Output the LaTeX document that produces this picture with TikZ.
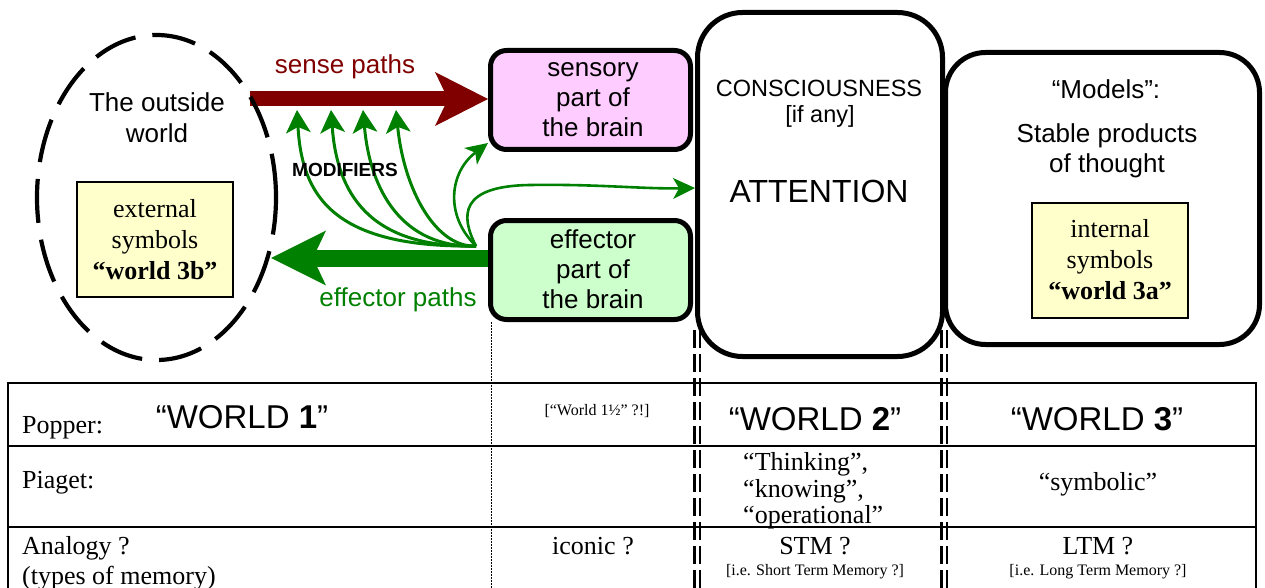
\documentclass[tikz,border=0pt]{standalone}
\usepackage{fontspec}
\setmainfont{Liberation Serif}
\setsansfont{Liberation Sans}
\usetikzlibrary{shapes.geometric,arrows.meta}
\definecolor{dred}{HTML}{800000}
\definecolor{dgreen}{HTML}{008000}
\definecolor{pinkf}{HTML}{FFCCFF}
\definecolor{greenf}{HTML}{CCFFCC}
\definecolor{yelf}{HTML}{FFFFCC}
\begin{document}
\begin{tikzpicture}[x=1pt,y=-1pt,
  every node/.style={inner sep=0pt},
  sfB/.style={font=\fontsize{26}{30}\selectfont\sffamily, anchor=base},
  sfM/.style={font=\fontsize{23.5}{28}\selectfont\sffamily, anchor=base},
  rmB/.style={font=\fontsize{26}{30}\selectfont\rmfamily, anchor=base},
  rmS/.style={font=\fontsize{16}{19}\selectfont\rmfamily, anchor=base},
  wld/.style={font=\fontsize{33}{38}\selectfont\sffamily, anchor=base},
  brainbox/.style={draw, line width=5pt, rounded corners=16pt, minimum width=200pt, minimum height=99pt},
  bigbox/.style={draw, line width=5pt, fill=white},
  symbox/.style={draw, line width=1.5pt, fill=yelf, minimum width=156pt, minimum height=115pt},
  mod/.style={dgreen, line width=3pt, -{Stealth[length=23pt,width=25pt,inset=6pt,line width=0pt]}},
  thin/.style={dgreen, line width=2.6pt, -{Stealth[length=22pt,width=21pt,inset=6pt,line width=0pt]}},
  tabline/.style={line width=2pt},
  ddash/.style={line width=2.8pt, dash pattern=on 18pt off 6pt},
  dotl/.style={line width=1pt, dash pattern=on 1.5pt off 1.5pt}
]
\useasboundingbox (0,0) rectangle (1265,588);

% boxes
\node[brainbox, fill=pinkf] (sensory) at (590.5,100) {};
\node[brainbox, fill=greenf] (effector) at (590.5,270) {};
\node[bigbox, rounded corners=45pt, minimum width=245pt, minimum height=344pt] (consc) at (820,184.5) {};
\node[bigbox, rounded corners=40pt, minimum width=314pt, minimum height=292pt] (models) at (1102.5,198.5) {};

% coordinates
\coordinate (s0) at (250,99);
\coordinate (e0) at (271,258);
\coordinate (m0) at ([xshift=-12pt,yshift=24pt]effector.west);
\coordinate (mt1) at (297,110);
\coordinate (mt2) at (331,110);
\coordinate (mt3) at (363,110);
\coordinate (mt4) at (396,110);

% big arrows
\draw[dred, line width=15pt, -{Stealth[length=53pt,width=54pt,inset=13pt,line width=0pt]}] (s0) -- (sensory.west |- s0);
\draw[dgreen, line width=17pt, -{Stealth[length=55pt,width=55pt,inset=13pt,line width=0pt]}] (effector.west |- e0) -- (e0);

% modifier arrows
\draw[mod] (m0) .. controls (332,248) and (302,195) .. (mt1);
\draw[mod] (m0) .. controls (368,248) and (337,192) .. (mt2);
\draw[mod] (m0) .. controls (402,248) and (370,190) .. (mt3);
\draw[mod] (m0) .. controls (436,248) and (404,190) .. (mt4);
\draw[thin] (m0) .. controls (444,215) and (450,172) .. ([yshift=9pt]sensory.south west);
\draw[thin] (m0) .. controls (460,215) and (460,186) .. (530,185) .. controls (600,184) and (640,189) .. ([yshift=-3.5pt]consc.west);

% outside world ellipse
\node[ellipse, draw, line width=4.2pt, dash pattern=on 44pt off 17pt, minimum width=239pt, minimum height=325pt] (outer) at (156.5,197.5) {};
\node[symbox] (extbox) at (155,239.5) {};
\node[symbox] (intbox) at (1110,260.5) {};

% labels
\node[sfB, text=dred] (lsense) at (345,74) {sense paths};
\node[sfB, text=dgreen] (leff) at (398,306) {effector paths};
\node[font=\fontsize{19}{22}\selectfont\sffamily\bfseries, anchor=base] (lmod) at (345,177) {MODIFIERS};

\node[sfB] (ow1) at (157,112) {The outside};
\node[sfB] (ow2) at (157,143) {world};
\node[rmB] (ex1) at (155,217) {external};
\node[rmB] (ex2) at (155,248) {symbols};
\node[rmB, font=\fontsize{26}{30}\selectfont\rmfamily\bfseries] (ex3) at (155,279) {“world 3b”};

\node[sfB] (se1) at (593,77) {sensory};
\node[sfB] (se2) at (593,107) {part of};
\node[sfB] (se3) at (593,137) {the brain};
\node[sfB] (ef1) at (593,248) {effector};
\node[sfB] (ef2) at (593,278) {part of};
\node[sfB] (ef3) at (593,308) {the brain};

\node[sfM] (co1) at (819,97) {CONSCIOUSNESS};
\node[sfM] (co2) at (820,123) {[if any]};
\node[font=\fontsize{32}{36}\selectfont\sffamily, anchor=base] (co3) at (819,202) {ATTENTION};

\node[sfB] (mo1) at (1106,99) {“Models”:};
\node[sfB] (mo2) at (1107,143) {Stable products};
\node[sfB] (mo3) at (1107,173) {of thought};
\node[rmB] (in1) at (1110,237) {internal};
\node[rmB] (in2) at (1110,268) {symbols};
\node[rmB, font=\fontsize{26}{30}\selectfont\rmfamily\bfseries] (in3) at (1110,299) {“world 3a”};

% table
\draw[tabline] (8,383) -- (1256,383);
\draw[tabline] (8,446) -- (1256,446);
\draw[tabline] (8,527) -- (1256,527);
\draw[tabline] (8,382) -- (8,588);
\draw[tabline] (1256,382) -- (1256,588);
\draw[dotl] (effector.south west -| 491,0) -- (491,588);
\draw[ddash] (694.5,330) -- (694.5,588);
\draw[ddash] (700,330) -- (700,588);
\draw[ddash] (941.5,330) -- (941.5,588);
\draw[ddash] (947,330) -- (947,588);

\node[rmB, anchor=base west] (p1) at (22,433) {Popper:};
\node[wld] (w1) at (242,428) {“WORLD \textbf{1}”};
\node[rmS] (w15) at (597,415) {[“World 1½” ?!]};
\node[wld] (w2) at (815,430) {“WORLD \textbf{2}”};
\node[wld] (w3) at (1097,430) {“WORLD \textbf{3}”};

\node[rmB, anchor=base west] (p2) at (22,488) {Piaget:};
\node[rmB, anchor=base west] (th1) at (743,470) {“Thinking”,};
\node[rmB, anchor=base west] (th2) at (743,497) {“knowing”,};
\node[rmB, anchor=base west] (th3) at (743,523) {“operational”};
\node[rmB] (sym) at (1098,490) {“symbolic”};

\node[rmB, anchor=base west] (p3) at (22,554) {Analogy ?};
\node[rmB, anchor=base west] (p4) at (22,584) {(types of memory)};
\node[rmB] (ic) at (593,554) {iconic ?};
\node[rmB] (stm) at (815,554) {STM ?};
\node[rmS] (stm2) at (815,575) {[i.e. Short Term Memory ?]};
\node[rmB] (ltm) at (1098,554) {LTM ?};
\node[rmS] (ltm2) at (1098,575) {[i.e. Long Term Memory ?]};
\end{tikzpicture}
\end{document}
